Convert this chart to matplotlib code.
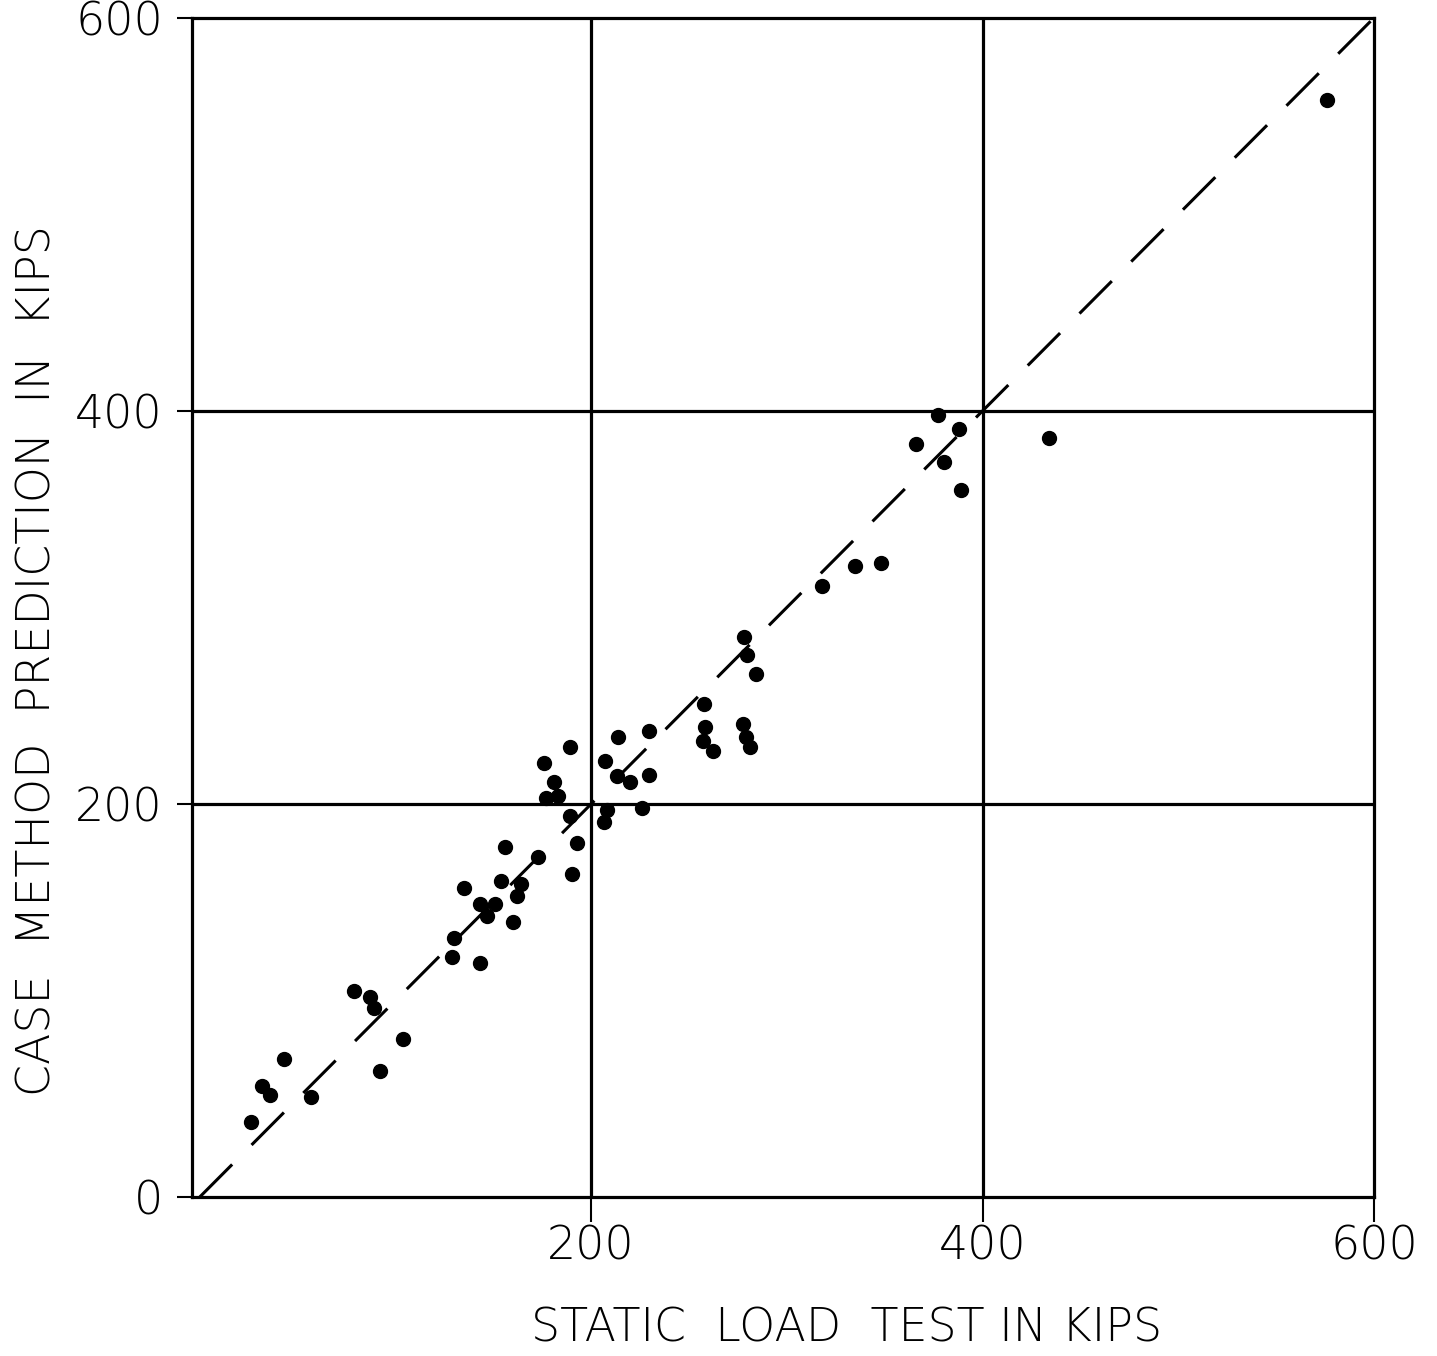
import matplotlib
matplotlib.use("Agg")
import matplotlib.pyplot as plt

# static load test vs case method prediction (kips)
static = [26, 32, 36, 43, 57, 79, 87, 89, 92, 104,
          129, 130, 135, 143, 143, 147, 151, 154, 156, 160,
          162, 164, 173, 176, 177, 181, 183, 189, 189, 190,
          193, 206.6, 207, 208, 213, 213.5, 220, 226, 229.6, 229.7,
          257, 257.4, 258.3, 262.4, 277.4, 278, 279, 279.5, 281, 284,
          318, 335, 348, 366, 377, 380.5, 388, 389, 434, 576]
case = [38, 56.5, 52, 70, 51, 105, 102, 96, 64, 80.5,
        122, 132, 157, 149, 119, 143, 149, 161, 178, 140,
        153, 159.5, 173, 221, 203, 211, 204, 229, 194, 164.5,
        180, 191, 222, 197, 214, 234, 211, 198, 214.5, 237,
        232, 251, 239, 227, 240.5, 285, 234, 276, 229, 266,
        311, 321, 322.5, 383, 398, 374, 391, 360, 386, 558]

x_ticks = [200, 400, 600]
y_ticks = [0, 200, 400, 600]
grid_vals = [200, 400]

font = dict(family="DejaVu Sans", weight="light", size=33)

fig = plt.figure(figsize=(14.37, 13.56), dpi=100)
ax = fig.add_axes([0.1336, 0.1173, 0.8225, 0.8695])

# grid lines at 200 / 400
for g in grid_vals:
    ax.axvline(g, color="black", lw=2.3, zorder=1)
    ax.axhline(g, color="black", lw=2.3, zorder=1)

# line of equality
ax.plot([0, 600], [0, 600], color="black", lw=2.2, dashes=(15, 9), zorder=2)

ax.plot(static, case, "o", color="black", ms=10, zorder=3)

ax.set_xlim(-4, 600)
ax.set_ylim(0, 600)
for s in ax.spines.values():
    s.set_linewidth(2.3)

ax.set_xticks(x_ticks)
ax.set_xticklabels([str(v) for v in x_ticks], fontdict=font)
ax.set_yticks(y_ticks)
ax.set_yticklabels([str(v) for v in y_ticks], fontdict=font)
ax.tick_params(axis="x", direction="out", length=18, width=1.5, pad=2)
ax.tick_params(axis="y", direction="out", length=11, width=1.5, pad=10)

fig.text(0.589, 0.004, "STATIC  LOAD  TEST IN KIPS", ha="center", va="bottom", **font)
fig.text(0.026, 0.513, "CASE  METHOD  PREDICTION  IN  KIPS", ha="center", va="center",
         rotation=90, **font)

fig.savefig("out.png", dpi=100)
